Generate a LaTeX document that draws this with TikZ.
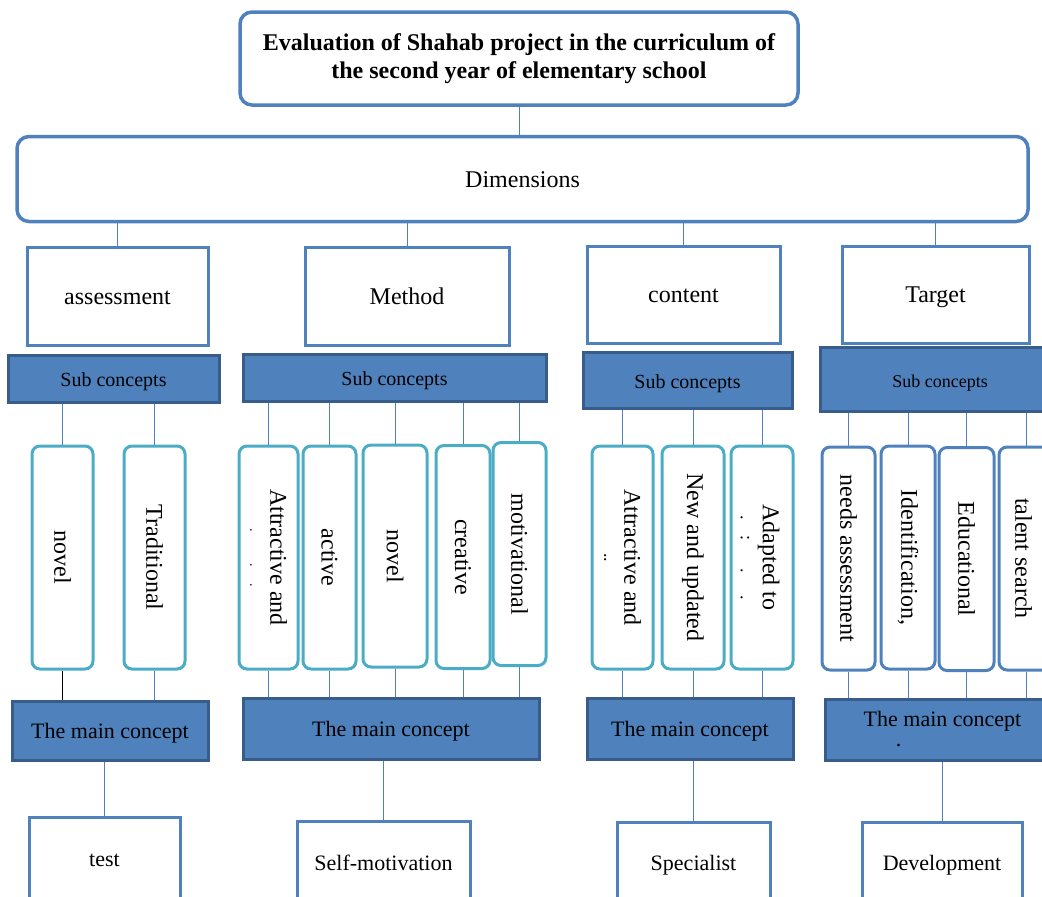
\documentclass[tikz,border=0pt]{standalone}
\usepackage{fontspec}
\setmainfont{Liberation Serif}
\definecolor{frameblue}{RGB}{79,129,189}
\definecolor{darkblue}{RGB}{56,93,138}
\definecolor{itemteal}{RGB}{75,172,198}

\begin{document}
\begin{tikzpicture}[x=.5pt,y=-.5pt,
  topbox/.style={draw=frameblue,line width=1.75pt,rounded corners=6pt,inner sep=0pt,
    font=\fontsize{12}{14}\selectfont},
  onerow/.style={text height=1.9ex,text depth=.1ex},
  dimbox/.style={draw=frameblue,line width=1.5pt,inner sep=0pt,onerow,
    font=\fontsize{12}{14}\selectfont},
  subbox/.style={draw=darkblue,fill=frameblue,line width=1.5pt,inner sep=0pt,onerow,
    font=\fontsize{10}{12}\selectfont},
  mainbox/.style={subbox,font=\fontsize{11}{13}\selectfont},
  endbox/.style={dimbox,font=\fontsize{11}{13}\selectfont},
  itembox/.style={draw=itemteal,line width=1.5pt,rounded corners=4pt,
    minimum height=111.5pt,inner sep=0pt},
  itemtext/.style={rotate=-90,align=center,inner sep=0pt,
    font=\fontsize{12}{14}\selectfont},
  link/.style={draw=frameblue,line width=.5pt}]
    \useasboundingbox (0,0) rectangle (1042,896);
    \clip (0,0) rectangle (1042,896);

    % title and dimensions
    \node[topbox,minimum width=279pt,minimum height=46.5pt,align=center,
      font=\bfseries\fontsize{12}{14}\selectfont] (title) at (519,58.5)
      {Evaluation of Shahab project in the curriculum of\\the second year of elementary school};
    \node[topbox,onerow,minimum width=505.5pt,minimum height=42.5pt] (dims) at (522.5,179) {Dimensions};

    % the four dimensions
    \node[dimbox,minimum width=90.5pt,minimum height=49pt] (assess) at (117.5,296) {assessment};
    \node[dimbox,minimum width=102pt,minimum height=49pt] (method) at (407,296) {Method};
    \node[dimbox,minimum width=96.5pt,minimum height=48.5pt] (content) at (683.5,294.5) {content};
    \node[dimbox,minimum width=93.5pt,minimum height=48.5pt] (target) at (935.5,294.5) {Target};

    % sub concepts
    \node[subbox,minimum width=105.5pt,minimum height=23.5pt] (subA) at (113.5,378.5) {Sub concepts};
    \node[subbox,minimum width=151.5pt,minimum height=23.5pt] (subM) at (394.5,377.5) {Sub concepts};
    \node[subbox,minimum width=104.5pt,minimum height=28pt] (subC) at (687.5,380) {Sub concepts};
    \node[subbox,minimum width=120pt,minimum height=32pt,
      font=\fontsize{9}{11}\selectfont] (subT) at (940,379) {Sub concepts};

    % items: assessment
    \node[itembox,minimum width=30.5pt] (a1) at (62.5,557.5) {};
    \node[itembox,minimum width=30.5pt] (a2) at (154.5,557.5) {};
    \node[itemtext] (a1t) at (a1) {novel};
    \node[itemtext] (a2t) at (a2) {Traditional};
    % items: method
    \node[itembox,minimum width=29.5pt] (m1) at (268.5,557.5) {};
    \node[itembox,minimum width=26.5pt] (m2) at (329.5,557.5) {};
    \node[itembox,minimum width=32pt,minimum height=111pt] (m3) at (395,556) {};
    \node[itembox,minimum width=27pt] (m4) at (463,557) {};
    \node[itembox,minimum width=26.5pt] (m5) at (519.5,554) {};
    \node[itemtext] (m1t) at (m1) {Attractive and\\[-4pt]\scriptsize .\hspace{16pt}.\hspace{8pt}.};
    \node[itemtext] (m2t) at (m2) {active};
    \node[itemtext] (m3t) at (m3) {novel};
    \node[itemtext] (m4t) at (m4) {creative};
    \node[itemtext] (m5t) at (m5) {motivational};
    % items: content
    \node[itembox,minimum width=30.5pt] (c1) at (622.5,557.5) {};
    \node[itembox,minimum width=31pt] (c2) at (693,557.5) {};
    \node[itembox,minimum width=31pt] (c3) at (762,557.5) {};
    \node[itemtext] (c1t) at (c1) {Attractive and\\[-4pt]\small ..};
    \node[itemtext] (c2t) at (c2) {New and updated};
    \node[itemtext] (c3t) at ([xshift=-1pt]c3) {Adapted to\\[-3pt]\small .\hspace{8pt}:\hspace{14pt}.\hspace{11pt}.};
    % items: target
    \node[itembox,draw=frameblue,minimum width=26.5pt] (t1) at (848.5,558.5) {};
    \node[itembox,draw=frameblue,minimum width=27pt] (t2) at (908,557.5) {};
    \node[itembox,draw=frameblue,minimum width=27.5pt] (t3) at (966.5,559) {};
    \node[itembox,draw=frameblue,minimum width=27.5pt] (t4) at (1026.5,558.5) {};
    \node[itemtext] (t1t) at (t1) {needs assessment};
    \node[itemtext] (t2t) at (t2) {Identification,};
    \node[itemtext] (t3t) at (t3) {Educational};
    \node[itemtext] (t4t) at ([xshift=-1.5pt]t4) {talent search};

    % main concepts
    \node[mainbox,minimum width=98pt,minimum height=29.5pt] (mainA) at (110,730.5) {The main concept};
    \node[mainbox,minimum width=148pt,minimum height=30.5pt] (mainM) at (391,728.5) {The main concept};
    \node[mainbox,minimum width=103pt,minimum height=30.5pt] (mainC) at (690,728.5) {The main concept};
    \node[subbox,minimum width=117.5pt,minimum height=30.5pt,align=center,text height=,text depth=,
      font=\fontsize{11}{13}\selectfont] (mainT) at (942.5,729.5)
      {The main concept\\[-3pt].\hspace*{44pt}};

    % results
    \node[endbox,minimum width=75.5pt,minimum height=41.5pt] (test) at (104.5,858.5) {test};
    \node[endbox,minimum width=86.5pt,minimum height=41pt] (selfmot) at (383.5,862) {Self-motivation};
    \node[endbox,minimum width=76.5pt,minimum height=40.5pt] (spec) at (693.5,862.5) {Specialist};
    \node[endbox,minimum width=80pt,minimum height=40.5pt] (devel) at (942,862.5) {Development};

    % links
    \draw[link] (title.south) -- (title.south |- dims.north);
    \foreach \b in {assess,method,content,target}
      \draw[link] (\b.north) -- (\b.north |- dims.south);
    \foreach \i/\s/\m/\c in {a1/subA/mainA/black,a2/subA/mainA/frameblue,
        m1/subM/mainM/frameblue,m2/subM/mainM/frameblue,m3/subM/mainM/frameblue,
        m4/subM/mainM/frameblue,m5/subM/mainM/frameblue,
        c1/subC/mainC/frameblue,c2/subC/mainC/frameblue,c3/subC/mainC/frameblue,
        t1/subT/mainT/frameblue,t2/subT/mainT/frameblue,t3/subT/mainT/frameblue,
        t4/subT/mainT/frameblue} {
      \draw[link] (\i.north) -- (\i.north |- \s.south);
      \draw[link,draw=\c] (\i.south) -- (\i.south |- \m.north);
    }
    \foreach \m/\r in {mainA/test,mainM/selfmot,mainC/spec,mainT/devel}
      \draw[link] (\r.north) -- (\r.north |- \m.south);
\end{tikzpicture}
\end{document}
